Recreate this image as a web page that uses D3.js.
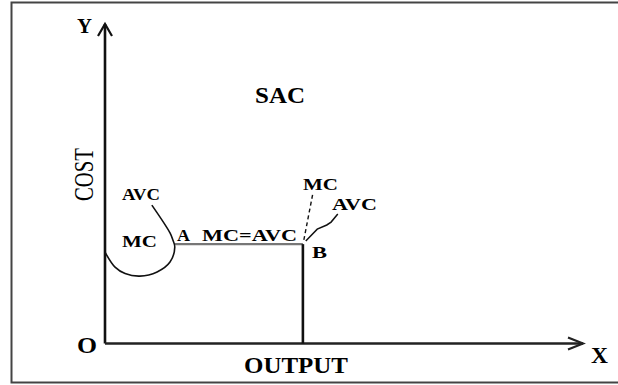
<!DOCTYPE html>
<html>
<head>
<meta charset="utf-8">
<script src="https://cdn.jsdelivr.net/npm/d3@7"></script>
<style>
  html, body { margin: 0; padding: 0; background: #fff; }
  svg { display: block; }
  text { font-family: "Liberation Serif", "Times New Roman", serif; fill: #000; }
</style>
</head>
<body>
<svg id="chart" width="618" height="385"></svg>
<script>
// ---- data (output units on x, cost units on y) ----
const axisMax = [10, 10];                       // x max, y max (arrow tips)
const mcAvcLoop = [                              // MC / AVC curve left of A
  [0, 2.86], [0.21, 2.39], [0.42, 2.19], [0.73, 2.11], [1.09, 2.24],
  [1.36, 2.55], [1.46, 3.02], [1.42, 3.24], [1.36, 3.46], [0.98, 4.33]
];
const flatSegment = [[1.46, 3.11], [4.14, 3.11]]; // MC = AVC between A and B
const outputB = [4.14, 3.11];                     // point B
const mcRight = [[4.16, 3.24], [4.35, 4.71]];      // dashed MC after B
const avcRight = [[4.20, 3.21], [4.44, 3.58], [4.64, 3.71], [4.73, 3.80], [4.87, 4.05]];
const labelTexts = ["Y", "SAC", "COST", "AVC", "MC", "A", "MC=AVC", "MC", "AVC", "B", "O", "OUTPUT", "X"];

// ---- layout ----
const svg = d3.select("#chart");
const x = d3.scaleLinear().domain([0, axisMax[0]]).range([105, 583]);
const y = d3.scaleLinear().domain([0, axisMax[1]]).range([343.5, 24]);

// frame
svg.append("rect").attr("x", 11.5).attr("y", 2.5).attr("width", 640).attr("height", 380)
  .attr("fill", "none").attr("stroke", "#444").attr("stroke-width", 2);

const line = d3.line().x(d => x(d[0])).y(d => y(d[1]));

// axes
svg.append("path").attr("d", line([[0, 0], [0, axisMax[1]]]))
  .attr("stroke", "#111").attr("stroke-width", 2.6).attr("fill", "none");
svg.append("path").attr("d", line([[0, 0], [axisMax[0], 0]]))
  .attr("stroke", "#222").attr("stroke-width", 2.4).attr("fill", "none");
// arrow heads
svg.append("path").attr("d", `M${x(0) - 7},${y(axisMax[1]) + 12} L${x(0)},${y(axisMax[1])} L${x(0) + 7},${y(axisMax[1]) + 12}`)
  .attr("stroke", "#111").attr("stroke-width", 2.2).attr("fill", "none");
svg.append("path").attr("d", `M${x(axisMax[0]) - 15},${y(0) - 6} L${x(axisMax[0])},${y(0)} L${x(axisMax[0]) - 15},${y(0) + 6}`)
  .attr("stroke", "#222").attr("stroke-width", 2.2).attr("fill", "none");

// flat MC=AVC
svg.append("path").attr("d", line(flatSegment))
  .attr("stroke", "#777").attr("stroke-width", 2.2).attr("fill", "none");
// vertical at B
svg.append("path").attr("d", line([[outputB[0], 0], outputB]))
  .attr("stroke", "#111").attr("stroke-width", 2.6).attr("fill", "none");
// loop curve
svg.append("path").attr("d", d3.line().x(d => x(d[0])).y(d => y(d[1])).curve(d3.curveCatmullRom)(mcAvcLoop))
  .attr("stroke", "#111").attr("stroke-width", 1.6).attr("fill", "none");
// dashed MC
svg.append("path").attr("d", line(mcRight))
  .attr("stroke", "#111").attr("stroke-width", 1.4).attr("stroke-dasharray", "4,3").attr("fill", "none");
// AVC right
svg.append("path").attr("d", line(avcRight))
  .attr("stroke", "#111").attr("stroke-width", 1.5).attr("fill", "none");

// labels: [index, left, baseline, width, size, weight]
const labelLayout = [
  [0, 77, 33, 15, 21, "bold"],
  [1, 255, 103, 50, 23, "bold"],
  [3, 122, 200, 38, 17.5, "bold"],
  [4, 122, 247, 35, 17.5, "bold"],
  [5, 177, 241, 13, 17.5, "bold"],
  [6, 202, 241, 95, 17.5, "bold"],
  [7, 303, 190, 35, 17.5, "bold"],
  [8, 332, 210, 45, 17.5, "bold"],
  [9, 312, 258, 15, 17.5, "bold"],
  [10, 77, 353, 20, 23, "bold"],
  [11, 244, 373, 104, 23, "bold"],
  [12, 591, 363, 17, 23, "bold"]
];
labelLayout.forEach(l => {
  svg.append("text").attr("x", l[1]).attr("y", l[2])
    .attr("textLength", l[3]).attr("lengthAdjust", "spacingAndGlyphs")
    .attr("font-size", l[4]).attr("font-weight", l[5]).text(labelTexts[l[0]]);
});
// COST rotated
svg.append("text").attr("transform", "translate(92.5,201) scale(1.35,1) rotate(-90)")
  .attr("textLength", 53).attr("lengthAdjust", "spacingAndGlyphs")
  .attr("font-size", 21).text(labelTexts[2]);
</script>
</body>
</html>
